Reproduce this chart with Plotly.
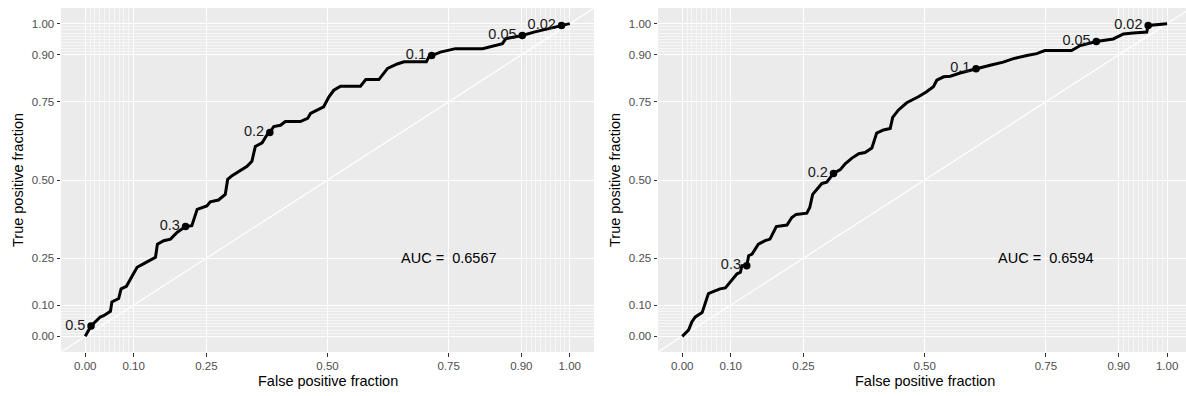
import plotly.graph_objects as go

# ROC curve, model A
roc1_fpr = [0, 0.012, 0.031, 0.038, 0.052, 0.055, 0.069, 0.074, 0.085, 0.1,
            0.107, 0.12, 0.131, 0.145, 0.149, 0.162, 0.176, 0.19, 0.207, 0.22,
            0.231, 0.251, 0.258, 0.275, 0.289, 0.294, 0.303, 0.32, 0.334, 0.344,
            0.351, 0.365, 0.375, 0.381, 0.389, 0.403, 0.413, 0.444, 0.459, 0.465,
            0.492, 0.503, 0.513, 0.527, 0.568, 0.579, 0.606, 0.624, 0.644, 0.658,
            0.704, 0.71, 0.715, 0.733, 0.764, 0.82, 0.861, 0.868, 0.902, 0.926,
            0.954, 0.983, 1.0]
roc1_tpr = [0, 0.033, 0.062, 0.066, 0.08, 0.11, 0.121, 0.152, 0.16, 0.2,
            0.221, 0.232, 0.242, 0.253, 0.295, 0.306, 0.311, 0.333, 0.351, 0.354,
            0.406, 0.417, 0.43, 0.436, 0.454, 0.502, 0.514, 0.531, 0.544, 0.56,
            0.607, 0.619, 0.644, 0.652, 0.671, 0.675, 0.687, 0.687, 0.697, 0.713,
            0.734, 0.766, 0.787, 0.8, 0.8, 0.821, 0.821, 0.857, 0.871, 0.878,
            0.878, 0.896, 0.898, 0.909, 0.92, 0.92, 0.936, 0.952, 0.962, 0.973,
            0.984, 0.994, 1.0]
cut1_labels = ["0.5", "0.3", "0.2", "0.1", "0.05", "0.02"]
cut1_fpr = [0.012, 0.207, 0.381, 0.715, 0.902, 0.983]
cut1_tpr = [0.033, 0.351, 0.652, 0.898, 0.962, 0.994]
auc1 = 0.6567

# ROC curve, model B
roc2_fpr = [0, 0.013, 0.02, 0.027, 0.041, 0.047, 0.054, 0.065, 0.078, 0.089,
            0.102, 0.113, 0.12, 0.123, 0.133, 0.137, 0.144, 0.157, 0.171, 0.181,
            0.194, 0.216, 0.226, 0.235, 0.257, 0.263, 0.269, 0.278, 0.288, 0.298,
            0.312, 0.326, 0.336, 0.35, 0.364, 0.377, 0.391, 0.401, 0.415, 0.429,
            0.434, 0.446, 0.463, 0.487, 0.504, 0.518, 0.525, 0.539, 0.553, 0.573,
            0.606, 0.635, 0.662, 0.683, 0.711, 0.731, 0.748, 0.803, 0.821, 0.854,
            0.889, 0.91, 0.93, 0.958, 0.961, 0.989, 1.0]
roc2_tpr = [0, 0.02, 0.047, 0.062, 0.076, 0.105, 0.137, 0.144, 0.152, 0.155,
            0.179, 0.2, 0.205, 0.226, 0.226, 0.258, 0.263, 0.295, 0.306, 0.311,
            0.351, 0.356, 0.38, 0.39, 0.394, 0.412, 0.454, 0.47, 0.489, 0.493,
            0.521, 0.533, 0.552, 0.57, 0.584, 0.588, 0.602, 0.65, 0.66, 0.665,
            0.7, 0.724, 0.747, 0.766, 0.782, 0.798, 0.819, 0.83, 0.832, 0.842,
            0.856, 0.867, 0.877, 0.888, 0.898, 0.904, 0.914, 0.914, 0.93, 0.943,
            0.951, 0.967, 0.97, 0.973, 0.994, 0.997, 1.0]
cut2_labels = ["0.3", "0.2", "0.1", "0.05", "0.02"]
cut2_fpr = [0.133, 0.312, 0.606, 0.854, 0.961]
cut2_tpr = [0.226, 0.521, 0.856, 0.943, 0.994]
auc2 = 0.6594

major_breaks = [0, 0.1, 0.25, 0.5, 0.75, 0.9, 1.0]
major_labels = ["0.00", "0.10", "0.25", "0.50", "0.75", "0.90", "1.00"]
minor_breaks = [i / 100 for i in range(1, 10)] + [i / 100 for i in range(91, 100)]

FONT = "Liberation Sans, Arial, Helvetica, sans-serif"
W, H = 1186, 396
MT, MB = 8, 44
PANEL_BG = "#EBEBEB"

panels = [
    dict(fpr=roc1_fpr, tpr=roc1_tpr, cfpr=cut1_fpr, ctpr=cut1_tpr,
         clab=cut1_labels, auc=auc1, dom=[61 / W, 594 / W], xr=[-0.05, 1.05]),
    dict(fpr=roc2_fpr, tpr=roc2_tpr, cfpr=cut2_fpr, ctpr=cut2_tpr,
         clab=cut2_labels, auc=auc2, dom=[658 / W, 1.0], xr=[-0.05, 1.039]),
]

fig = go.Figure()
layout = dict(
    width=W, height=H,
    margin=dict(l=0, r=0, t=MT, b=MB, pad=0),
    paper_bgcolor="white",
    plot_bgcolor=PANEL_BG,
    showlegend=False,
    font=dict(family=FONT, color="#000000"),
)
annotations = []
plot_h = H - MT - MB

for i, p in enumerate(panels, start=1):
    xa = "x" if i == 1 else f"x{i}"
    ya = "y" if i == 1 else f"y{i}"
    axis_common = dict(
        tickmode="array", tickvals=major_breaks, ticktext=major_labels,
        showgrid=True, gridcolor="white", gridwidth=1.1,
        zeroline=False, showline=False,
        ticks="outside", ticklen=3.5, tickwidth=1, tickcolor="#333333",
        tickfont=dict(family=FONT, size=11.5, color="#4D4D4D"),
        minor=dict(tickvals=minor_breaks, showgrid=True, gridcolor="#F7F7F7",
                   gridwidth=0.55, ticks=""),
        fixedrange=True,
    )
    layout["xaxis" if i == 1 else f"xaxis{i}"] = dict(
        axis_common, domain=p["dom"], range=p["xr"], anchor=ya)
    layout["yaxis" if i == 1 else f"yaxis{i}"] = dict(
        axis_common, domain=[0, 1], range=[-0.05, 1.05], anchor=xa)

    # reference diagonal
    fig.add_trace(go.Scatter(
        x=[-0.2, 1.2], y=[-0.2, 1.2], mode="lines",
        line=dict(color="white", width=1.2), xaxis=xa, yaxis=ya,
        hoverinfo="skip"))
    # ROC curve
    fig.add_trace(go.Scatter(
        x=p["fpr"], y=p["tpr"], mode="lines",
        line=dict(color="black", width=3), xaxis=xa, yaxis=ya))
    # cutoff markers with labels
    fig.add_trace(go.Scatter(
        x=p["cfpr"], y=p["ctpr"], mode="markers+text",
        text=p["clab"], textposition="middle left",
        textfont=dict(family=FONT, size=14.5, color="#1A1A1A"),
        marker=dict(color="black", size=7.5), xaxis=xa, yaxis=ya,
        cliponaxis=False))

    annotations.append(dict(
        x=0.75, y=0.25, xref=xa, yref=ya, showarrow=False,
        text=f"AUC = \u00a0{p['auc']:.4f}",
        font=dict(family=FONT, size=14.5, color="#000000"),
        xanchor="center", yanchor="middle"))

    # axis titles
    x0_px = p["dom"][0] * W
    x1_px = p["dom"][1] * W
    xr = p["xr"]
    mid_px = x0_px + (0.5 - xr[0]) / (xr[1] - xr[0]) * (x1_px - x0_px)
    annotations.append(dict(
        x=mid_px / W, y=-(381 - (H - MB)) / plot_h, xref="paper", yref="paper",
        showarrow=False, text="False positive fraction",
        font=dict(family=FONT, size=14.5, color="#000000"),
        xanchor="center", yanchor="middle"))
    ytitle_px = 18 if i == 1 else 615
    annotations.append(dict(
        x=ytitle_px / W, y=(0.5 + 0.05) / 1.1, xref="paper", yref="paper",
        showarrow=False, text="True positive fraction", textangle=-90,
        font=dict(family=FONT, size=14.5, color="#000000"),
        xanchor="center", yanchor="middle"))

layout["annotations"] = annotations
fig.update_layout(**layout)
fig.write_html("out.html")
